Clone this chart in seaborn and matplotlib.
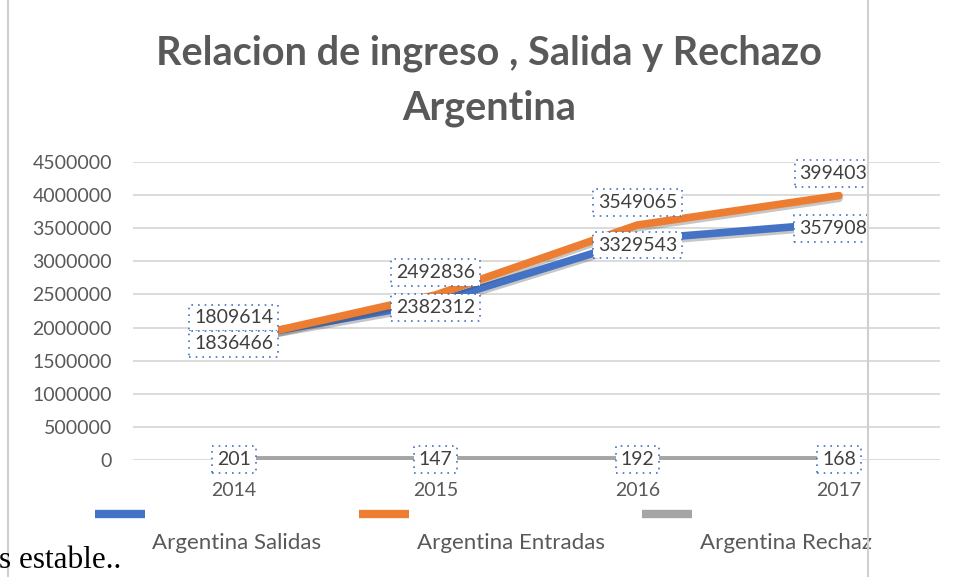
"""
Relacion de ingreso, salida y rechazo - Argentina
Recreate the Excel line chart with seaborn
"""

import pandas as pd
import matplotlib.pyplot as plt
import matplotlib.patheffects as pe
from matplotlib.lines import Line2D
from matplotlib.transforms import Bbox, TransformedBbox
import seaborn as sns

years = [2014, 2015, 2016, 2017]
salidas = [1836466, 2382312, 3329543, 3579080]
entradas = [1809614, 2492836, 3549065, 3994030]
rechazos = [201, 147, 192, 168]
y_ticks = [0, 500000, 1000000, 1500000, 2000000, 2500000, 3000000, 3500000, 4000000, 4500000]

series_names = ['Argentina Salidas', 'Argentina Entradas', 'Argentina Rechaz']
colors = ['#4472C4', '#ED7D31', '#A5A5A5']

sns.set_style("white")
plt.rcParams['font.family'] = ['Lato', 'DejaVu Sans']

df = pd.DataFrame({
    'pos': list(range(len(years))) * 3,
    'valor': salidas + entradas + rechazos,
    'serie': [series_names[0]] * 4 + [series_names[1]] * 4 + [series_names[2]] * 4,
})

fig = plt.figure(figsize=(9.63, 5.77), dpi=100)
ax = fig.add_axes([0.138, 0.203, 0.838, 0.516])

shadow = [pe.SimpleLineShadow(offset=(0, -2), shadow_color='#444444', alpha=0.3), pe.Normal()]
sns.lineplot(data=df, x='pos', y='valor', hue='serie', palette=colors, ax=ax,
             linewidth=5.5, legend=False, zorder=3)
for line in ax.get_lines()[:2]:
    line.set_path_effects(shadow)

ax.set_xlim(-0.5, 3.5)
ax.set_ylim(0, 4500000)
ax.set_yticks(y_ticks)
ax.set_yticklabels([str(v) for v in y_ticks])
ax.set_xticks(range(len(years)))
ax.set_xticklabels([str(y) for y in years])
ax.grid(axis='y', color='#D9D9D9', linewidth=1.3)
ax.grid(axis='x', visible=False)
for s in ax.spines.values():
    s.set_visible(False)
ax.tick_params(axis='y', length=0, pad=15, labelsize=14, labelcolor='#595959')
ax.tick_params(axis='x', length=0, pad=16, labelsize=14, labelcolor='#595959')
ax.set_xlabel('')
ax.set_ylabel('')

# Data labels with white boxes (dotted selection frame), cut at the chart frame
frame_clip = TransformedBbox(Bbox([[0, 0], [867 / 963, 1]]), fig.transFigure)
box = dict(boxstyle='square,pad=0.25', facecolor='white', edgecolor='#4472C4',
           linestyle=(0, (1, 3)), linewidth=1.2)
labels = []
for i in range(len(years)):
    labels.append(ax.annotate(str(entradas[i]), (i, entradas[i]), xytext=(0, 16),
                              textcoords='offset points'))
    labels.append(ax.annotate(str(salidas[i]), (i, salidas[i]), xytext=(0, -4),
                              textcoords='offset points'))
    labels.append(ax.annotate(str(rechazos[i]), (i, rechazos[i]), xytext=(0, 0),
                              textcoords='offset points', annotation_clip=False))
for t in labels:
    t.set(ha='center', va='center', fontsize=14, color='#404040', bbox=box, zorder=5)
    t.set_clip_path(None)
    t.set_clip_box(frame_clip)
    t.set_clip_on(True)

fig.text(0.508, 1 - 81 / 577, 'Relacion de ingreso , Salida y Rechazo\nArgentina',
         ha='center', va='center', fontsize=28.5, fontweight='bold', color='#595959',
         linespacing=1.58)

# Excel legend: swatches on one row, names just below them
handles = [Line2D([0], [0], color=c, linewidth=6, solid_capstyle='butt') for c in colors]
blank = [Line2D([0], [0], color='none', linewidth=6) for c in colors]
leg_opts = dict(loc='center left', ncol=3, frameon=False, fontsize=16, handlelength=2.25,
                handletextpad=0.33, columnspacing=1.7, borderpad=0, borderaxespad=0,
                bbox_transform=fig.transFigure)
leg_top = ax.legend(handles, series_names, bbox_to_anchor=(95 / 963, 1 - 516 / 577),
                    labelcolor='none', **leg_opts)
ax.add_artist(leg_top)
ax.legend(blank, series_names, bbox_to_anchor=(95 / 963, 1 - 543 / 577),
          labelcolor='#595959', **leg_opts)

# frame edges of the embedded chart and the document text below it
fig.add_artist(Line2D([8 / 963, 8 / 963], [0, 1], color='#D0D0D0', linewidth=1.5))
fig.add_artist(Line2D([868 / 963, 868 / 963], [0, 1], color='#D0D0D0', linewidth=1.5))
fig.text(-1 / 963, 1 - 561 / 577, 's estable..', family='Liberation Serif', fontsize=22.5,
         color='black', va='center', ha='left')

plt.savefig('out.png', dpi=100)
